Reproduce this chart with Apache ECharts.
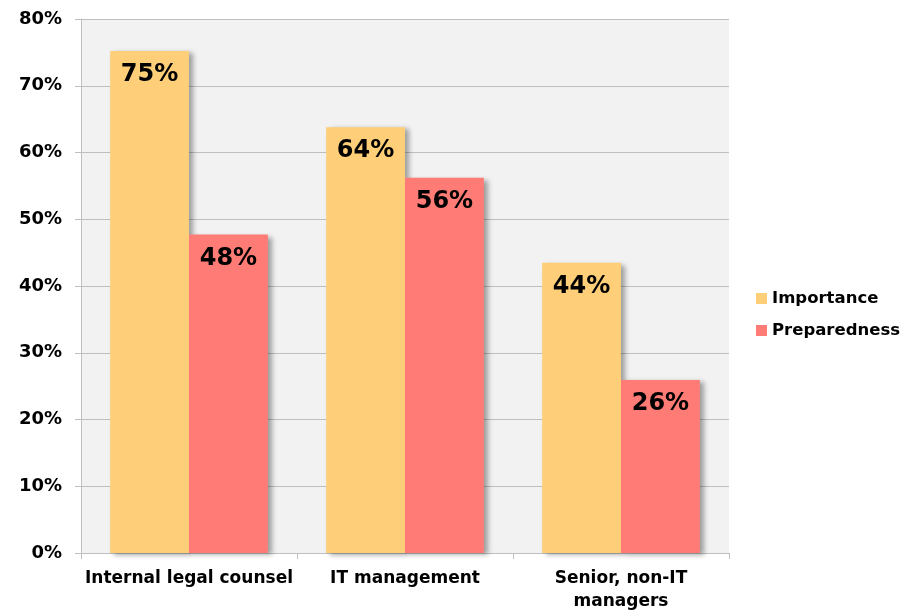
<!DOCTYPE html>
<html>
<head>
<meta charset="utf-8">
<script src="https://cdn.jsdelivr.net/npm/echarts@6/dist/echarts.min.js"></script>
<style>
  html, body { margin: 0; padding: 0; background: #fff; }
  #chart { width: 902px; height: 610px; }
</style>
</head>
<body>
<div id="chart"></div>
<script>
const categories = ['Internal legal counsel', 'IT management', 'Senior, non-IT\nmanagers'];
const importance = [75.2, 63.8, 43.5];
const preparedness = [47.7, 56.2, 25.9];
const yTicks = [0, 10, 20, 30, 40, 50, 60, 70, 80];

const chart = echarts.init(document.getElementById('chart'));

const font = 'DejaVu Sans';
const barLabel = {
  show: true,
  position: 'insideTop',
  distance: 12,
  formatter: p => Math.round(p.value) + '%',
  color: '#000',
  fontFamily: font,
  fontWeight: 'bold',
  fontSize: 24
};

const option = {
  animation: false,
  grid: {
    left: 81,
    right: 173,
    top: 19,
    bottom: 57,
    outerBoundsMode: 'none',
    show: true,
    backgroundColor: '#f2f2f2',
    borderWidth: 0
  },
  legend: {
    orient: 'vertical',
    left: 751,
    top: 285,
    itemWidth: 11,
    itemHeight: 11,
    itemGap: 15,
    icon: 'rect',
    textStyle: {
      fontFamily: font,
      fontWeight: 'bold',
      fontSize: 16.5,
      color: '#000'
    },
    data: ['Importance', 'Preparedness']
  },
  xAxis: {
    type: 'category',
    data: categories,
    axisLine: { lineStyle: { color: '#bfbfbf', width: 1 } },
    axisTick: { show: true, interval: 0, length: 6, lineStyle: { color: '#bfbfbf' } },
    axisLabel: {
      interval: 0,
      color: '#000',
      fontFamily: font,
      fontWeight: 'bold',
      fontSize: 17,
      margin: 14,
      lineHeight: 23
    }
  },
  yAxis: {
    type: 'value',
    min: 0,
    max: 80,
    interval: 10,
    axisLine: { show: true, lineStyle: { color: '#bfbfbf', width: 1 } },
    axisTick: { show: true, length: 6, lineStyle: { color: '#bfbfbf' } },
    splitLine: { lineStyle: { color: '#bfbfbf', width: 1 } },
    axisLabel: {
      color: '#000',
      fontFamily: font,
      fontWeight: 'bold',
      fontSize: 18,
      margin: 19,
      customValues: yTicks,
      formatter: v => v + '%'
    }
  },
  series: [
    {
      name: 'Importance',
      type: 'bar',
      data: importance,
      barGap: '0%',
      barCategoryGap: '27%',
      itemStyle: {
        color: '#fecf78',
        shadowColor: 'rgba(0,0,0,0.35)',
        shadowBlur: 5,
        shadowOffsetX: 4,
        shadowOffsetY: 2
      },
      label: barLabel
    },
    {
      name: 'Preparedness',
      type: 'bar',
      data: preparedness,
      barGap: '0%',
      barCategoryGap: '27%',
      itemStyle: {
        color: '#fe7b76',
        shadowColor: 'rgba(0,0,0,0.35)',
        shadowBlur: 5,
        shadowOffsetX: 4,
        shadowOffsetY: 2
      },
      label: barLabel
    }
  ]
};

chart.setOption(option);
</script>
</body>
</html>
